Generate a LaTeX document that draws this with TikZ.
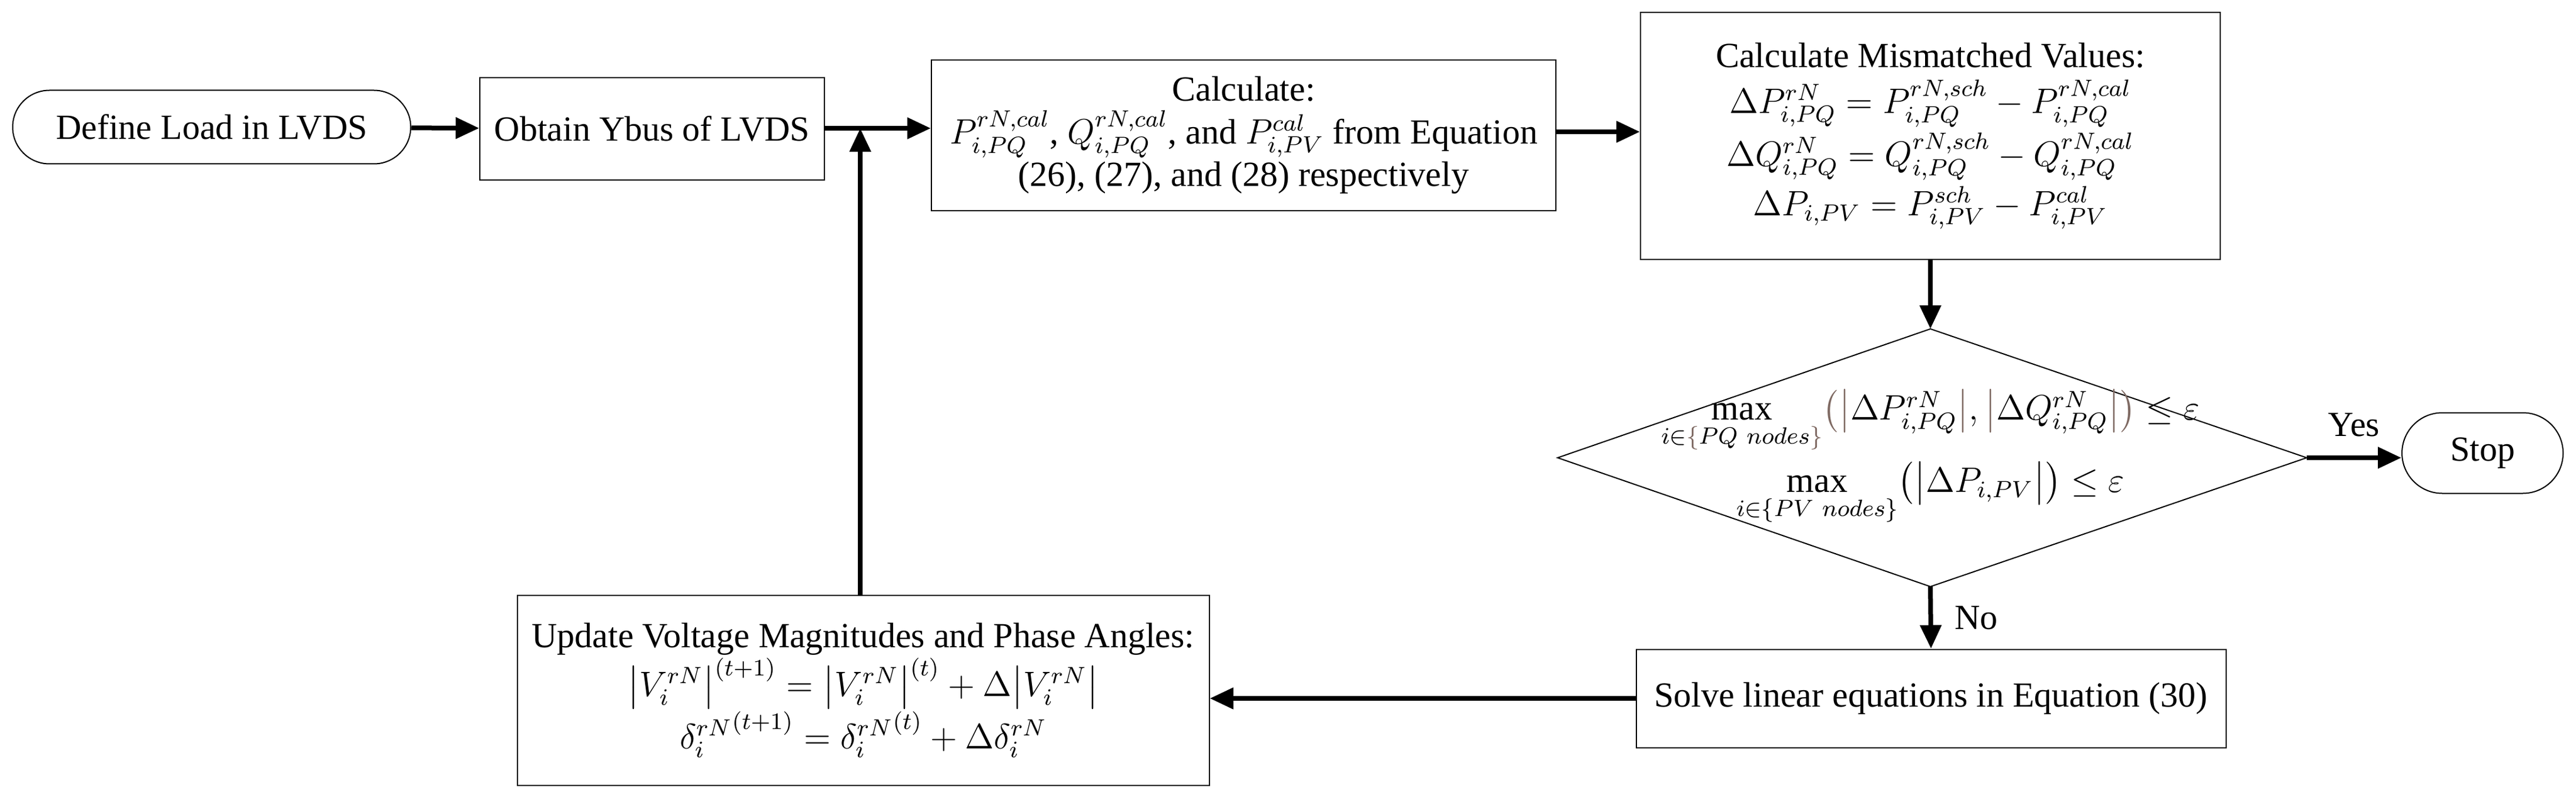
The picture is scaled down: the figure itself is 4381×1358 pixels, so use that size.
\documentclass[tikz,border=0pt]{standalone}
\usepackage{fontspec}
\setmainfont{Liberation Serif}
\usepackage{amsmath}
\usetikzlibrary{arrows.meta,shapes.misc}
\definecolor{br}{HTML}{7F6A63}
\begin{document}
\begin{tikzpicture}[x=0.2pt,y=-0.2pt,
  box/.style={draw,line width=0.4pt,align=center,inner sep=0pt,font=\fontsize{12}{14.5}\selectfont},
  arr/.style={line width=1.6pt,-{Triangle[length=8pt,width=7pt]}}]
\useasboundingbox (0,0) rectangle (4381,1358);
\node[box,rounded rectangle,minimum width=677*0.2pt,minimum height=125*0.2pt] (def) at (360,216) {Define Load in LVDS};
\node[box,minimum width=586*0.2pt,minimum height=174*0.2pt] (ybus) at (1109,219) {Obtain Ybus of LVDS};
\node[box,minimum width=1062*0.2pt,minimum height=255*0.2pt] (calc) at (2115,230) {Calculate:\\
$P_{i,PQ}^{rN,cal}$, $Q_{i,PQ}^{rN,cal}$, and $P_{i,PV}^{cal}$ from Equation\\(26), (27), and (28) respectively};
\node[box,minimum width=986*0.2pt,minimum height=419*0.2pt] (mis) at (3283,231) {Calculate Mismatched Values:\\[1pt]
$\Delta P_{i,PQ}^{rN}=P_{i,PQ}^{rN,sch}-P_{i,PQ}^{rN,cal}$\\[1pt]
$\Delta Q_{i,PQ}^{rN}=Q_{i,PQ}^{rN,sch}-Q_{i,PQ}^{rN,cal}$\\[1pt]
$\Delta P_{i,PV}=P_{i,PV}^{sch}-P_{i,PV}^{cal}$};
\coordinate (dt) at (3283,559);
\coordinate (db) at (3283,997);
\coordinate (dl) at (2649,778);
\coordinate (dr) at (3923,778);
\draw[line width=0.4pt] (dt) -- (dr) -- (db) -- (dl) -- cycle;
\node[align=center,font=\fontsize{12}{14.5}\selectfont] (cond) at (3283,778) {%
$\max\limits_{i\in{\color{br}\{}PQ\ nodes{\color{br}\}}}\color{br}\bigl(\bigl|\color{black}\Delta P_{i,PQ}^{rN}\color{br}\bigr|\color{black},\color{br}\bigl|\color{black}\Delta Q_{i,PQ}^{rN}\color{br}\bigr|\bigr)\color{black}\le\varepsilon$\\[2pt]
$\max\limits_{i\in\{PV\ nodes\}}\bigl(\bigl|\Delta P_{i,PV}\bigr|\bigr)\le\varepsilon$};
\node[box,rounded rectangle,minimum width=274*0.2pt,minimum height=137*0.2pt] (stop) at (4222,770) {Stop};
\node[box,minimum width=1003*0.2pt,minimum height=167*0.2pt] (solve) at (3284,1187) {Solve linear equations in Equation (30)};
\node[box,minimum width=1177*0.2pt,minimum height=323*0.2pt] (upd) at (1468,1173) {Update Voltage Magnitudes and Phase Angles:\\
$\bigl|V_i^{rN}\bigr|^{(t+1)}=\bigl|V_i^{rN}\bigr|^{(t)}+\Delta\bigl|V_i^{rN}\bigr|$\\
${\delta_i^{rN}}^{(t+1)}={\delta_i^{rN}}^{(t)}+\Delta\delta_i^{rN}$};
\coordinate (join) at (1463,218);
\draw[arr] (def) -- (ybus);
\draw[arr] (ybus.east|-join) -- (calc.west|-join);
\draw[arr] (calc.east|-3000,224) -- (mis.west|-3000,224);
\draw[arr] (mis.south) -- (dt);
\draw[arr] (dr) -- node[above,yshift=3pt,font=\fontsize{12}{14.5}\selectfont]{Yes} (stop.west|-dr);
\draw[arr] (db) -- node[right,font=\fontsize{12}{14.5}\selectfont,xshift=4pt]{No} (solve.north);
\draw[arr] (solve.west) -- (upd.east|-solve.west);
\draw[arr] (upd.north-|join) -- (join);
\end{tikzpicture}
\end{document}
